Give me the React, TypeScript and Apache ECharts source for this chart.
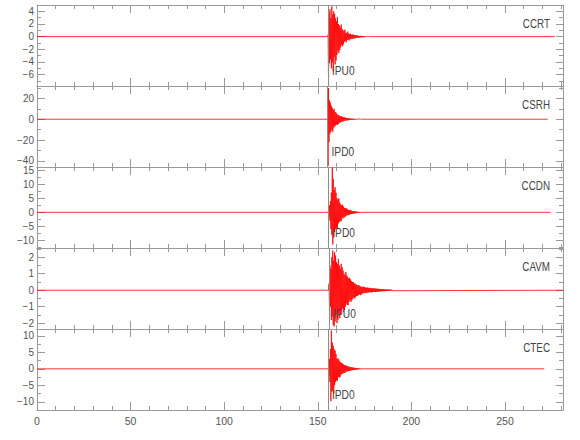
import React, { useEffect, useRef } from "react";
import * as echarts from "echarts";

// ---- data ----
const stations = ["CCRT", "CSRH", "CCDN", "CAVM", "CTEC"];
const phaseLabels = ["IPU0", "IPD0", "IPD0", "IPU0", "IPD0"];
const pickTimes = [155.4, 155.2, 155.6, 156.1, 155.4];
const onsetTimes = [155.25, 155.0, 155.5, 155.75, 155.5];
const traceEnds = [276.7, 272.8, 274.4, 281, 271];
const sampleStep = 0.25;

const ccrtAmp = [
  0.3, -7.5, 3.8, -4.2, 4.3, -3.6, 2.9, -5.0, 4.8, -4.1, 3.5, -5.5, 4.0, -3.2, 3.6, -4.4,
  2.9, -3.8, 2.4, -2.9, 3.1, -2.2, 2.0, -2.6, 1.8, -2.1, 1.5, -1.7, 1.9, -1.3, 1.2, -1.5,
  1.0, -1.2, 0.9, -0.8, 1.1, -0.7, 0.6, -0.9, 0.6, -0.5, 0.8, -0.5, 0.5, -0.6, 0.4, -0.4,
  0.45, -0.35, 0.3, -0.4, 0.3, -0.3, 0.35, -0.25, 0.25, -0.3, 0.2, -0.2, 0.22, -0.18, 0.2, -0.15,
  0.15, -0.18, 0.12, -0.14, 0.12, -0.1, 0.14, -0.1, 0.1, -0.08, 0.09, -0.1, 0.07, -0.08, 0.06, -0.05,
  0.05, -0.06, 0.04, -0.04, 0.04, -0.03, 0.03, -0.02,
];
const csrhAmp = [
  -2, -45, 30, -22, 18, -14, 16, -12, 13, -10, 11, -12, 9, -8, 10, -7,
  7, -6, 6.5, -5, 5, -5.5, 4, -4.5, 4, -3.5, 3, -3.2, 2.8, -2.5, 3, -2.2,
  2, -2.2, 1.8, -1.6, 1.5, -1.4, 1.7, -1.2, 1.2, -1, 1.1, -1.2, 0.9, -0.8, 0.9, -0.7,
  0.7, -0.6, 0.6, -0.7, 0.5, -0.5, 0.6, -0.4, 0.4, -0.45, 0.35, -0.3, 0.3, -0.35, 0.25, -0.2,
  0.2, -0.25, 0.2, -0.15, 0.15, -0.2, 0.12, -0.1,
];
const ccdnAmp = [
  0.5, -1.5, 2.5, -3, 4, -6, 7, -8, 16, -11.5, 12, -9, 8, -7, 9, -6,
  7, -5.5, 5, -6, 4.5, -4, 5, -3.5, 3.5, -3, 2.8, -3.2, 2.5, -2.2, 2.7, -2,
  2, -1.8, 1.6, -1.7, 1.4, -1.3, 1.5, -1.1, 1.1, -1, 0.9, -1, 0.8, -0.8, 0.9, -0.6,
  0.7, -0.6, 0.5, -0.6, 0.5, -0.4, 0.45, -0.4, 0.35, -0.4, 0.3, -0.3, 0.28, -0.25, 0.2, -0.22,
  0.18, -0.2, 0.15, -0.15, 0.12, -0.1, 0.1, -0.08,
];
const cavmAmp = [
  0.4, -1.2, 1.5, -1.0, 1.3, -1.8, 2.0, -1.6, 2.4, -2.1, 1.8, -2.2, 2.3, -1.9, 2.1, -1.5,
  1.7, -2.0, 1.6, -1.8, 1.9, -1.4, 1.5, -1.7, 1.3, -1.5, 1.6, -1.2, 1.4, -1.1, 1.2, -1.3,
  1.0, -1.2, 0.9, -1.0, 1.1, -0.8, 0.9, -0.9, 0.8, -0.9, 0.7, -0.7, 0.75, -0.6, 0.65, -0.7,
  0.55, -0.6, 0.5, -0.5, 0.5, -0.45, 0.4, -0.5, 0.4, -0.4, 0.35, -0.35, 0.3, -0.35, 0.3, -0.28,
  0.3, -0.25, 0.25, -0.3, 0.22, -0.25, 0.2, -0.2, 0.2, -0.18, 0.22, -0.17, 0.17, -0.15, 0.16, -0.18,
  0.15, -0.14, 0.16, -0.15, 0.14, -0.13, 0.15, -0.12, 0.13, -0.12, 0.12, -0.13, 0.12, -0.11, 0.12, -0.1,
  0.11, -0.1, 0.1, -0.11, 0.1, -0.09, 0.09, -0.1, 0.09, -0.08, 0.08, -0.09, 0.08, -0.07, 0.07, -0.08,
  0.07, -0.06, 0.07, -0.06, 0.06, -0.06, 0.05, -0.06, 0.05, -0.05, 0.05, -0.04, 0.05, -0.05, 0.04, -0.04,
  0.04, -0.04, 0.04, -0.03, 0.03, -0.04, 0.03, -0.03,
];
const ctecAmp = [
  0.5, -2, 3, -4, 6, -9.8, 11.6, -7, 8, -6.5, 7, -7.5, 6, -5, 5.5, -4,
  4.5, -3.5, 3, -3.6, 3.2, -2.5, 2.8, -2.6, 2.2, -2.4, 2, -1.7, 1.8, -1.5, 1.6, -1.4,
  1.3, -1.2, 1.1, -1.2, 1, -0.9, 1, -0.8, 0.8, -0.7, 0.75, -0.7, 0.6, -0.65, 0.55, -0.5,
  0.5, -0.45, 0.45, -0.4, 0.4, -0.35, 0.35, -0.3, 0.3, -0.3, 0.25, -0.25, 0.22, -0.2, 0.2, -0.18,
  0.15, -0.15, 0.12, -0.12, 0.1, -0.1, 0.08, -0.08,
];
const amplitudes = [ccrtAmp, csrhAmp, ccdnAmp, cavmAmp, ctecAmp];

const yMins = [-7.8, -46, -12.75, -2.35, -12.5];
const yMaxs = [5, 32, 16.2, 2.56, 12.1];
const yMajorTicks = [
  [-6, -4, -2, 0, 2, 4],
  [-40, -20, 0, 20],
  [-10, -5, 0, 5, 10, 15],
  [-2, -1, 0, 1, 2],
  [-10, -5, 0, 5, 10],
];
const yMinorSteps = [1, 10, 2.5, 0.5, 2.5];
const xMajorTicks = [0, 50, 100, 150, 200, 250];
const xMinorStep = 10;
const xMin = 0;
const xMax = 281;

// ---- layout / style ----
const FONT = "'Liberation Sans', Arial, sans-serif";
const AXIS_COLOR = "#9a9a9a";
const TEXT_COLOR = "#555555";
const GRID_LEFT = 37;
const GRID_RIGHT = 17;
const GRID_TOP = 5;
const PANEL_H = 81;

function multiplesIn(min: number, max: number, step: number) {
  const out: number[] = [];
  const start = Math.ceil(min / step - 1e-9);
  const end = Math.floor(max / step + 1e-9);
  for (let k = start; k <= end; k++) out.push(+(k * step).toFixed(6));
  return out;
}

function buildTrace(amp: number[], start: number, end: number) {
  const d: number[][] = [[xMin, 0], [start, 0]];
  amp.forEach((v, k) => d.push([+(start + (k + 1) * sampleStep).toFixed(3), v]));
  d.push([+(start + (amp.length + 1) * sampleStep).toFixed(3), 0]);
  d.push([end, 0]);
  return d;
}

export default function App() {
  const ref = useRef<HTMLDivElement>(null);
  useEffect(() => {
    if (!ref.current) return;
    const chart = echarts.init(ref.current, null, { renderer: "svg" });
    const grids: any[] = [];
    const xAxes: any[] = [];
    const yAxes: any[] = [];
    const series: any[] = [];
    const xMinor = multiplesIn(xMin, xMax, xMinorStep);

    stations.forEach((name, i) => {
      grids.push({ left: GRID_LEFT, right: GRID_RIGHT, top: GRID_TOP + i * PANEL_H, height: PANEL_H });
      const baseX = {
        gridIndex: i, type: "value", min: xMin, max: xMax,
        splitLine: { show: false },
        axisLine: { show: true, onZero: false, lineStyle: { color: AXIS_COLOR, width: 1 } },
      };
      xAxes.push({
        ...baseX, position: "bottom",
        axisTick: { show: true, inside: true, length: 8, customValues: xMajorTicks, lineStyle: { color: AXIS_COLOR } },
        axisLabel: {
          show: i === stations.length - 1, customValues: xMajorTicks, color: TEXT_COLOR,
          fontFamily: FONT, fontSize: 10.5, margin: 5,
        },
      });
      xAxes.push({
        ...baseX, position: "bottom",
        axisLine: { show: false, onZero: false },
        axisTick: { show: true, inside: true, length: 4, customValues: xMinor, lineStyle: { color: AXIS_COLOR } },
        axisLabel: { show: false },
      });
      xAxes.push({
        ...baseX, position: "top",
        axisTick: { show: true, inside: true, length: 8, customValues: xMajorTicks, lineStyle: { color: AXIS_COLOR } },
        axisLabel: { show: false },
      });
      xAxes.push({
        ...baseX, position: "top",
        axisLine: { show: false, onZero: false },
        axisTick: { show: true, inside: true, length: 4, customValues: xMinor, lineStyle: { color: AXIS_COLOR } },
        axisLabel: { show: false },
      });

      const yMinor = multiplesIn(yMins[i], yMaxs[i], yMinorSteps[i]);
      const baseY = {
        gridIndex: i, type: "value", min: yMins[i], max: yMaxs[i],
        splitLine: { show: false },
        axisLine: { show: true, onZero: false, lineStyle: { color: AXIS_COLOR, width: 1 } },
      };
      yAxes.push({
        ...baseY, position: "left",
        axisTick: { show: true, inside: true, length: 8, customValues: yMajorTicks[i], lineStyle: { color: AXIS_COLOR } },
        axisLabel: {
          show: true, customValues: yMajorTicks[i], color: TEXT_COLOR, fontFamily: FONT, fontSize: 10,
          lineHeight: 9, margin: 3,
          formatter: (v: number) => (v < 0 ? "\u2212" + Math.abs(v) : String(v)),
        },
      });
      yAxes.push({
        ...baseY, position: "left",
        axisLine: { show: false, onZero: false },
        axisTick: { show: true, inside: true, length: 4, customValues: yMinor, lineStyle: { color: AXIS_COLOR } },
        axisLabel: { show: false },
      });
      yAxes.push({
        ...baseY, position: "right",
        axisTick: { show: true, inside: true, length: 7, customValues: yMajorTicks[i], lineStyle: { color: AXIS_COLOR } },
        axisLabel: { show: false },
      });
      yAxes.push({
        ...baseY, position: "right",
        axisLine: { show: false, onZero: false },
        axisTick: { show: true, inside: true, length: 4, customValues: yMinor, lineStyle: { color: AXIS_COLOR } },
        axisLabel: { show: false },
      });

      series.push({
        type: "line",
        name,
        xAxisIndex: i * 4,
        yAxisIndex: i * 4,
        data: buildTrace(amplitudes[i], onsetTimes[i], traceEnds[i]),
        showSymbol: false,
        symbol: "none",
        clip: true,
        lineStyle: { color: "#ff0000", width: 0.8 },
        itemStyle: { color: "#ff0000" },
        silent: true,
        markLine: {
          silent: true,
          symbol: ["none", "none"],
          label: { show: false },
          lineStyle: { color: "#8c8c8c", width: 1, type: "solid" },
          data: [{ xAxis: pickTimes[i] }],
        },
      });
    });

    chart.setOption({
      animation: false,
      backgroundColor: "#ffffff",
      grid: grids,
      xAxis: xAxes,
      yAxis: yAxes,
      series,
    });

    const graphics: any[] = [];
    stations.forEach((name, i) => {
      const top = GRID_TOP + i * PANEL_H;
      graphics.push({
        type: "text",
        x: 550,
        y: top + 19,
        z: 100,
        scaleX: 0.82,
        style: { text: name, fill: "#444444", font: `12px ${FONT}`, align: "right", verticalAlign: "middle" },
      });
      const px = chart.convertToPixel({ xAxisIndex: i * 4 } as any, pickTimes[i]) as number;
      graphics.push({
        type: "text",
        x: px + 4,
        y: top + 66,
        z: 100,
        scaleX: 0.85,
        style: { text: phaseLabels[i], fill: "#444444", font: `12px ${FONT}`, align: "left", verticalAlign: "middle" },
      });
    });
    chart.setOption({ graphic: graphics });

    return () => chart.dispose();
  }, []);

  return (
    <div
      ref={ref}
      style={{ position: "fixed", left: 0, top: 0, width: 580, height: 440, background: "#fff" }}
    />
  );
}
